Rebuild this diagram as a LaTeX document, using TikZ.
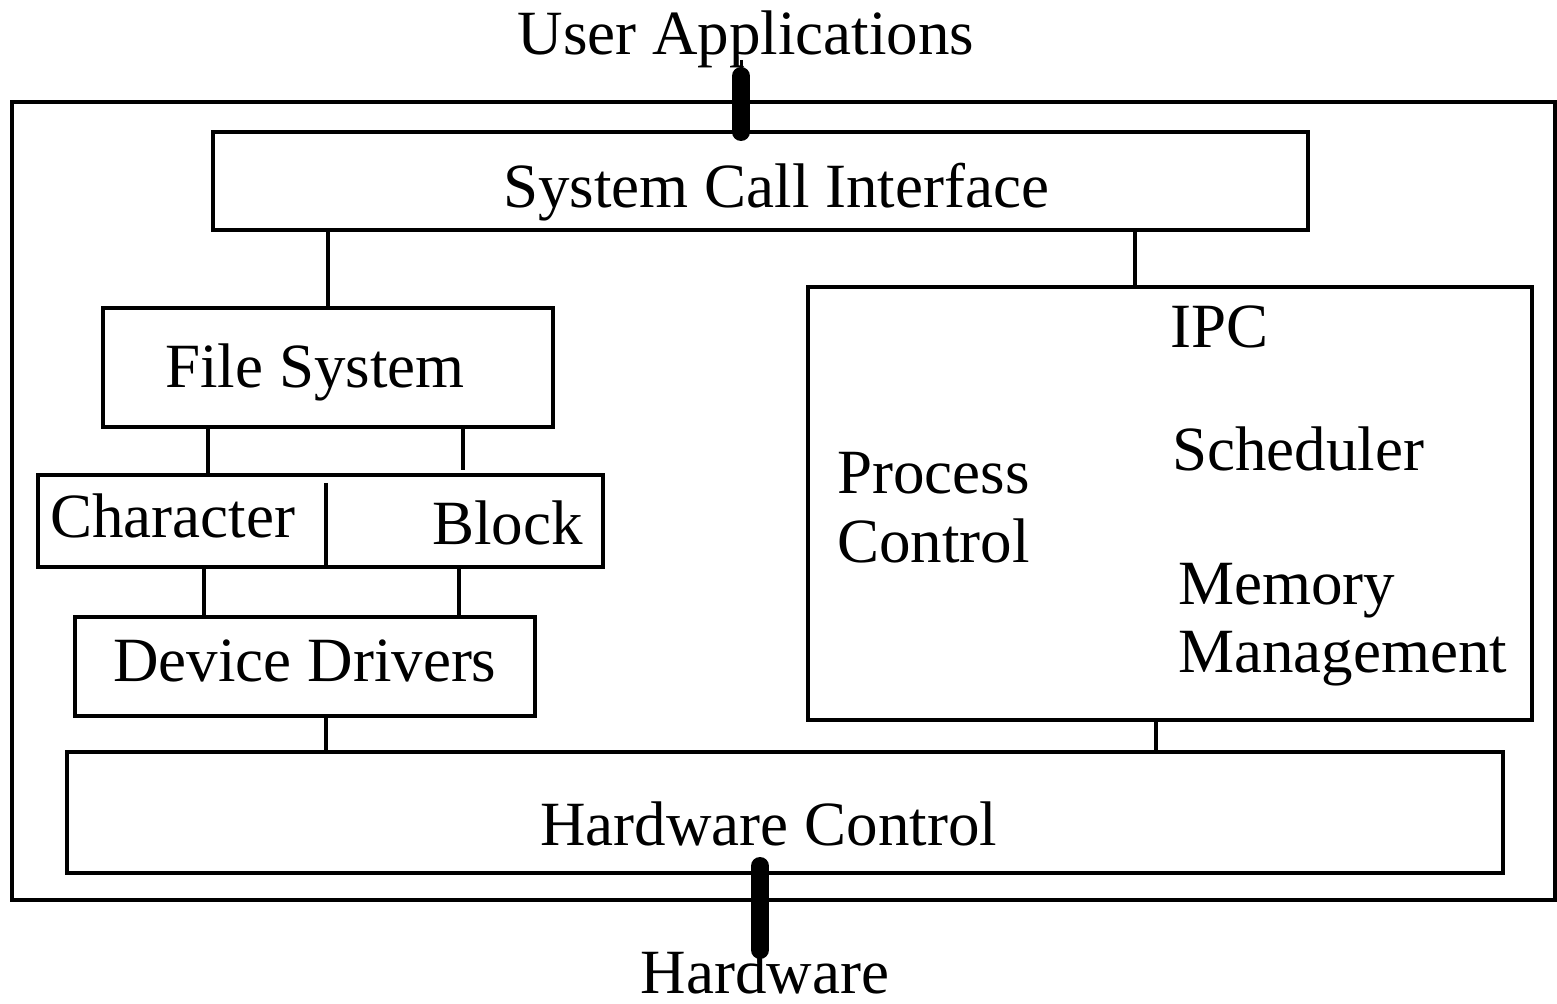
\documentclass[tikz,border=0pt]{standalone}
\usepackage{fontspec}
\setmainfont{Liberation Serif}
\begin{document}
\begin{tikzpicture}[x=0.5pt,y=-0.5pt,
  box/.style={draw,line width=2pt},
  link/.style={line width=2pt},
  pipe/.style={line width=9pt,line cap=round},
  lbl/.style={inner sep=0pt,anchor=base west,font=\fontsize{31.5}{36}\selectfont},
  clbl/.style={inner sep=0pt,anchor=base,font=\fontsize{31.5}{36}\selectfont}]
\useasboundingbox (0,0) rectangle (1557,1004);

% kernel frame
\draw[box] (12,102) rectangle (1555,900);

% boxes
\draw[box] (213,132) rectangle (1308,230);
\draw[box] (103,308) rectangle (553,427);
\draw[box] (38,475) rectangle (603,567);
\draw[box] (75,617) rectangle (535,716);
\draw[box] (808,287) rectangle (1532,720);
\draw[box] (67,752) rectangle (1503,873);

% labels
\node[clbl] (ua) at (746,55) {User Applications};
\node[lbl] (scit) at (503,208) {System Call Interface};
\node[lbl] (fst) at (165,388) {File System};
\node[lbl] (cht) at (50,538) {Character};
\node[lbl] (blt) at (432,545) {Block};
\node[lbl] (ddt) at (113,682) {Device Drivers};
\node[lbl] (ipc) at (1170,348) {IPC};
\node[lbl] (sch) at (1172,471) {Scheduler};
\node[lbl] (pr) at (837,494) {Process};
\node[lbl] (pc) at (837,563) {Control};
\node[lbl] (mem) at (1178,605) {Memory};
\node[lbl] (mm) at (1178,673) {Management};
\node[lbl] (hct) at (540,845) {Hardware Control};
\node[clbl] (hw) at (765,993) {Hardware};

% connectors
\coordinate (ua1) at (741,60);
\coordinate (ua2) at (741,76);
\coordinate (ua3) at (741,132);
\draw[line width=1.5pt] (ua1) -- (ua2);
\draw[pipe] (ua2) -- (ua3);
\coordinate (hw1) at (760,866);
\coordinate (hw2) at (760,950);
\draw[pipe] (hw1) -- (hw2);

\coordinate (a1) at (328,230); \coordinate (a2) at (328,308);
\draw[link] (a1) -- (a2);
\coordinate (b1) at (1135,230); \coordinate (b2) at (1135,287);
\draw[link] (b1) -- (b2);
\coordinate (c1) at (208,427); \coordinate (c2) at (208,475);
\draw[link] (c1) -- (c2);
\coordinate (d1) at (463,427); \coordinate (d2) at (463,470);
\draw[link] (d1) -- (d2);
\coordinate (e1) at (326,483); \coordinate (e2) at (326,567);
\draw[link] (e1) -- (e2);
\coordinate (f1) at (204,567); \coordinate (f2) at (204,617);
\draw[link] (f1) -- (f2);
\coordinate (g1) at (459,567); \coordinate (g2) at (459,617);
\draw[link] (g1) -- (g2);
\coordinate (h1) at (326,716); \coordinate (h2) at (326,752);
\draw[link] (h1) -- (h2);
\coordinate (i1) at (1156,720); \coordinate (i2) at (1156,752);
\draw[link] (i1) -- (i2);
\end{tikzpicture}
\end{document}
